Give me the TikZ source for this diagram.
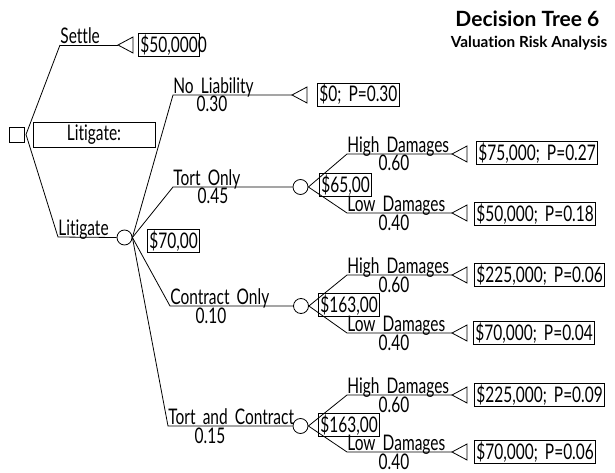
\documentclass[tikz,border=0pt]{standalone}
\usepackage{fontspec}
\setmainfont{Lato}[FakeStretch=0.72,WordSpace=1.8,Ligatures=NoCommon]
\newfontfamily\titlefont{Lato}[Ligatures=NoCommon]
\usetikzlibrary{calc}

\begin{document}
\begin{tikzpicture}[x=1pt,y=-1pt,line width=.8pt,
	font=\fontsize{21.5}{24}\selectfont,
	val/.style={draw,anchor=west,inner xsep=2pt,inner ysep=1pt,minimum height=23},
	chance/.style={draw,circle,minimum size=15,inner sep=0},
	lbl/.style={anchor=base west,inner sep=0,text depth=0pt,yshift=1.5},
	prob/.style={anchor=base,inner sep=0,text height=15pt,yshift=-17}]
	\useasboundingbox (0,0) rectangle (615,473);
	% title
	\node[anchor=base east,font=\titlefont\bfseries\fontsize{21}{24}\selectfont] (title) at (603,27) {Decision Tree 6};
	\node[anchor=base east,font=\titlefont\bfseries\fontsize{15.3}{19}\selectfont] (subtitle) at (611,48) {Valuation Risk Analysis};
	% decision and chance nodes
	\node[draw,minimum size=15,inner sep=0] (D) at (16.5,134.5) {};
	\node[draw,minimum width=122,minimum height=25,inner sep=0] (choice) at (94,134.5) {Litigate:};
	\coordinate (F) at (26,134.5);
	\node[chance] (C0) at (124.5,237.5) {};
	\node[chance] (C1) at (300.5,187) {};
	\node[chance] (C2) at (301,306) {};
	\node[chance] (C3) at (300.5,426) {};
	% branch starts
	\foreach \n/\x/\y in {S/60/45,L/58/237,B1/173/95,B2/173/187,B3/170/306,B4/168/426,
		H1/347/154,L1/347/213,H2/347/275,L2/347/333,H3/347/395,L3/347/452}
		\coordinate (\n) at (\x,\y);
	% end nodes
	\foreach \n/\x/\y in {T0/118/45,T1/292/95,T2/452/154,T3/452/213,T4/452/275,T5/452/333,T6/452/395,T7/452/452} {
		\coordinate (\n) at (\x,\y);
		\draw (\n) -- ++(15,-8) -- ++(0,16) -- cycle;
	}
	% connectors
	\draw (S) -- (F) -- (L) -- (C0.west);
	\draw (S) -- (T0);
	\draw (C0.east) -- (B1) -- (T1);
	\draw (C0.east) -- (B2) -- (C1.west);
	\draw (C0.east) -- (B3) -- (C2.west);
	\draw (C0.east) -- (B4) -- (C3.west);
	\draw (C1.east) -- (H1) -- (T2) (C1.east) -- (L1) -- (T3);
	\draw (C2.east) -- (H2) -- (T4) (C2.east) -- (L2) -- (T5);
	\draw (C3.east) -- (H3) -- (T6) (C3.east) -- (L3) -- (T7);
	% branch labels
	\node[lbl] (lS) at (S) {Settle};
	\node[lbl] (lL) at (L) {Litigate};
	\foreach \b/\t/\p/\d in {B1/No Liability/0.30/39,B2/Tort Only/0.45/40,B3/Contract Only/0.10/41,B4/Tort and Contract/0.15/42,
		H1/High Damages/0.60/47,L1/Low Damages/0.40/47,H2/High Damages/0.60/47,L2/Low Damages/0.40/47,
		H3/High Damages/0.60/47,L3/Low Damages/0.40/47}
		\path (\b) node[lbl] (l\b) {\t} ++(\d,0) node[prob] (p\b) {\p};
	% values
	\node[val] (V0) at (138,45) {\$50,000\rlap{0}};
	\node[val] (V1) at (317,94.5) {\$0; P=0.30};
	\node[val] (V2) at (476,153) {\$75,000; P=0.27};
	\node[val] (V3) at (474,214) {\$50,000; P=0.18};
	\node[val] (V4) at (474,275) {\$225,000; P=0.06};
	\node[val] (V5) at (473,333) {\$70,000; P=0.04};
	\node[val] (V6) at (474,395) {\$225,000; P=0.09};
	\node[val] (V7) at (474,452) {\$70,000; P=0.06};
	\node[val] (E0) at (147,241) {\$70,00};
	\node[val] (E1) at (319,185) {\$65,00};
	\node[val] (E2) at (318,305) {\$163,00};
	\node[val] (E3) at (318,425) {\$163,00};
\end{tikzpicture}
\end{document}
